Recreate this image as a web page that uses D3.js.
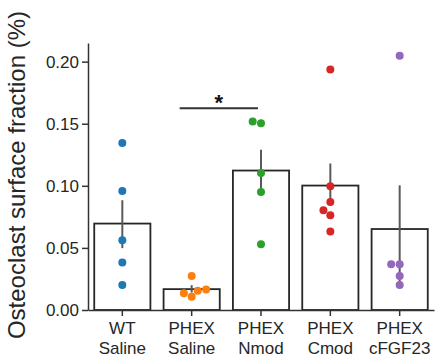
<!DOCTYPE html>
<html>
<head>
<meta charset="utf-8">
<script src="https://cdn.jsdelivr.net/npm/d3@7"></script>
<style>
  body { margin: 0; background: #fff; }
  svg { font-family: "Liberation Sans", Arial, sans-serif; }
</style>
</head>
<body>
<div id="app"></div>
<script>
// groups and their two-line labels
const groups = ["WT Saline", "PHEX Saline", "PHEX Nmod", "PHEX Cmod", "PHEX cFGF23"];
const labelTop = ["WT", "PHEX", "PHEX", "PHEX", "PHEX"];
const labelBottom = ["Saline", "Saline", "Nmod", "Cmod", "cFGF23"];
const colors = ["#1f77b4", "#ff7f0e", "#2ca02c", "#d62728", "#9467bd"];

// bar heights (means) and error bar ends
const means = [0.0696, 0.0168, 0.1123, 0.1002, 0.0652];
const errLow = [0.0498, 0.0140, 0.0950, 0.0840, 0.0220];
const errHigh = [0.0884, 0.0200, 0.1290, 0.1180, 0.1004];

// individual animals
const points = [
  [0.1344, 0.0958, 0.0562, 0.0383, 0.0201],
  [0.0273, 0.0134, 0.0107, 0.0155, 0.0166],
  [0.1518, 0.1504, 0.1103, 0.0950, 0.0530],
  [0.1936, 0.0996, 0.0870, 0.0803, 0.0763, 0.0632],
  [0.2048, 0.0369, 0.0369, 0.0273, 0.0201]
];

const yTicks = [0, 0.05, 0.1, 0.15, 0.2];
const sigPair = ["PHEX Saline", "PHEX Nmod"];
const sigLevel = 0.1625;

const width = 435, height = 362;
const svg = d3.select("#app").append("svg").attr("width", width).attr("height", height);

const x = d3.scaleBand().domain(groups).range([88, 434]).paddingInner(0.19).paddingOuter(0.09);
const y = d3.scaleLinear().domain([0, 0.215]).range([310, 43]);

// bars
svg.append("g")
  .selectAll("rect")
  .data(groups)
  .join("rect")
  .attr("x", d => x(d))
  .attr("width", x.bandwidth())
  .attr("y", (d, i) => y(means[i]))
  .attr("height", (d, i) => y(0) - y(means[i]))
  .attr("fill", "#fff")
  .attr("stroke", "#262626")
  .attr("stroke-width", 1.8);

// error bars
svg.append("g")
  .selectAll("line")
  .data(groups)
  .join("line")
  .attr("x1", d => x(d) + x.bandwidth() / 2)
  .attr("x2", d => x(d) + x.bandwidth() / 2)
  .attr("y1", (d, i) => y(errLow[i]))
  .attr("y2", (d, i) => y(errHigh[i]))
  .attr("stroke", "#5a5a5a")
  .attr("stroke-width", 2);

// simple beeswarm placement
const r = 4, gap = 8.5;
function swarm(vals) {
  const order = vals.map((v, i) => i).sort((a, b) => vals[a] - vals[b]);
  const placed = [];
  const out = new Array(vals.length);
  order.forEach(i => {
    const py = y(vals[i]);
    const near = placed.filter(p => Math.abs(p.y - py) < gap);
    const cands = [0];
    near.forEach(p => {
      const dx = Math.sqrt(gap * gap - (p.y - py) ** 2);
      cands.push(p.x - dx, p.x + dx);
    });
    cands.sort((a, b) => Math.abs(a) - Math.abs(b) || a - b);
    const ok = cands.find(c => near.every(p => Math.hypot(p.x - c, p.y - py) >= gap - 1e-6));
    placed.push({ x: ok, y: py });
    out[i] = ok;
  });
  return out;
}

groups.forEach((g, gi) => {
  const offs = swarm(points[gi]);
  svg.append("g")
    .selectAll("circle")
    .data(points[gi])
    .join("circle")
    .attr("cx", (d, i) => x(g) + x.bandwidth() / 2 + offs[i])
    .attr("cy", d => y(d))
    .attr("r", r)
    .attr("fill", colors[gi]);
});

// significance marker
const sx1 = x(sigPair[0]) + x.bandwidth() / 2 - 12;
const sx2 = x(sigPair[1]) + x.bandwidth() / 2 - 3;
svg.append("line")
  .attr("x1", sx1).attr("x2", sx2)
  .attr("y1", y(sigLevel)).attr("y2", y(sigLevel))
  .attr("stroke", "#333").attr("stroke-width", 2);
svg.append("text")
  .attr("x", (sx1 + sx2) / 2)
  .attr("y", y(sigLevel) + 2)
  .attr("text-anchor", "middle")
  .attr("font-size", 22)
  .attr("font-weight", "bold")
  .attr("fill", "#111")
  .text("*");

// axes
const yAxis = svg.append("g")
  .attr("transform", "translate(88,0)")
  .call(d3.axisLeft(y).tickValues(yTicks).tickFormat(d3.format(".2f")).tickSize(6).tickSizeOuter(0).tickPadding(3));

const xAxis = svg.append("g")
  .attr("transform", "translate(0,310)")
  .call(d3.axisBottom(x).tickSize(6).tickSizeOuter(0).tickFormat(""));

[yAxis, xAxis].forEach(a => {
  a.select(".domain").attr("stroke", "#333").attr("stroke-width", 1.5);
  a.selectAll(".tick line").attr("stroke", "#333").attr("stroke-width", 1.5);
  a.selectAll("text").attr("font-size", 17).attr("fill", "#262626")
    .attr("font-family", "'Liberation Sans', Arial, sans-serif");
});

xAxis.selectAll(".tick").each(function (d, i) {
  const t = d3.select(this).select("text").attr("y", 0).attr("dy", null);
  t.append("tspan").attr("x", 0).attr("y", 24).text(labelTop[i]);
  t.append("tspan").attr("x", 0).attr("y", 44).text(labelBottom[i]);
});

// y title
svg.append("text")
  .attr("transform", "translate(25,175) rotate(-90)")
  .attr("text-anchor", "middle")
  .attr("font-size", 24)
  .attr("fill", "#262626")
  .text("Osteoclast surface fraction (%)");
</script>
</body>
</html>
